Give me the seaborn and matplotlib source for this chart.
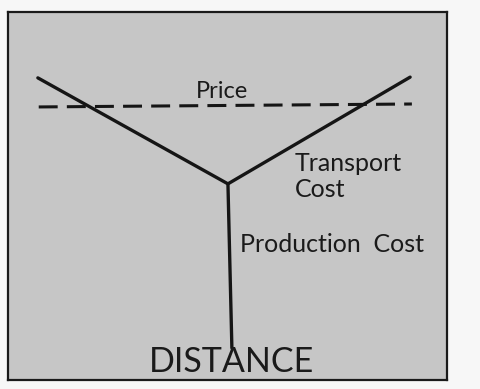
import matplotlib
matplotlib.use("Agg")
import matplotlib.pyplot as plt
import seaborn as sns
import pandas as pd

# Conceptual data (distance on x, cost on y) (0-100 scale)
v_distance = [6.8, 50.1, 91.6]          # transport cost curve (left arm, minimum, right arm)
v_cost = [82.1, 53.3, 82.3]
prod_distance = [50.1, 51.0]            # production cost stem
prod_cost = [53.3, 8.7]
price_distance = [7.0, 92.0]            # price line
price_cost = [74.2, 75.0]

labels = {
    "price": "Price",
    "transport": "Transport\nCost",
    "production": "Production  Cost",
    "axis": "DISTANCE",
}

sns.set_theme(style="white")
plt.rcParams['font.family'] = ['Lato', 'DejaVu Sans']

fig = plt.figure(figsize=(4.81, 3.89), dpi=100, facecolor="#f7f7f7")
ax = fig.add_axes([8/481, 9/389, 439/481, 368/389])
ax.set_facecolor("#c6c6c6")

v_df = pd.DataFrame({"distance": v_distance, "cost": v_cost})
p_df = pd.DataFrame({"distance": prod_distance, "cost": prod_cost})
pr_df = pd.DataFrame({"distance": price_distance, "cost": price_cost})

sns.lineplot(data=v_df, x="distance", y="cost", ax=ax, color="#151515",
             linewidth=2.4, sort=False, estimator=None)
sns.lineplot(data=p_df, x="distance", y="cost", ax=ax, color="#151515",
             linewidth=2.4, sort=False, estimator=None)
sns.lineplot(data=pr_df, x="distance", y="cost", ax=ax, color="#151515",
             linewidth=2.2, sort=False, estimator=None)
ax.lines[-1].set_linestyle((0, (6.2, 3.0)))

ax.set_xlim(0, 100)
ax.set_ylim(0, 100)
ax.set_xticks([])
ax.set_yticks([])
ax.set_xlabel("")
ax.set_ylabel("")
for s in ax.spines.values():
    s.set_visible(True)
    s.set_color("#1a1a1a")
    s.set_linewidth(1.6)

tc = "#1a1a1a"
ax.text(48.7, 78.5, labels["price"], ha="center", va="center", fontsize=17, color=tc)
ax.text(65.4, 55.2, labels["transport"], ha="left", va="center", fontsize=18,
        color=tc, linespacing=1.15)
ax.text(52.8, 36.7, labels["production"], ha="left", va="center", fontsize=18, color=tc)
ax.text(51.0, 4.9, labels["axis"], ha="center", va="center", fontsize=24.5, color=tc)

fig.savefig("out.png", dpi=100, facecolor=fig.get_facecolor())
